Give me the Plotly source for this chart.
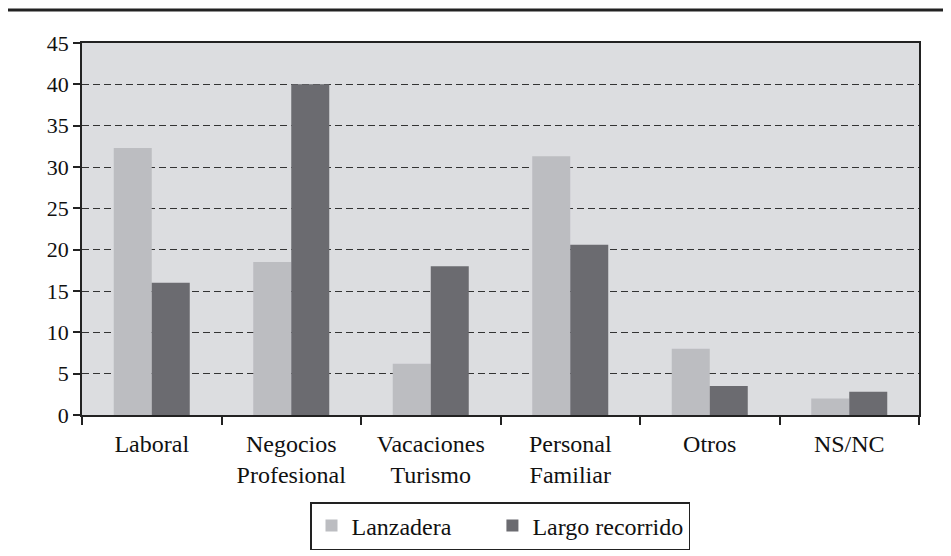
import plotly.graph_objects as go

categories = ["Laboral", "Negocios<br>Profesional", "Vacaciones<br>Turismo",
              "Personal<br>Familiar", "Otros", "NS/NC"]
lanzadera = [32.3, 18.5, 6.2, 31.3, 8.0, 2.0]
largo_recorrido = [16.0, 40.0, 18.0, 20.6, 3.5, 2.8]
y_ticks = [0, 5, 10, 15, 20, 25, 30, 35, 40, 45]
series_names = ["Lanzadera", "Largo recorrido"]

W, H = 951, 556
OFF = 8  # page body margin
L, R, T, B = 82 - OFF, 951 - 919 + OFF, 43 - OFF, 556 - 415 + OFF
pw, ph = W - L - R, H - T - B

FAM = "Liberation Serif, Times New Roman, serif"
font = dict(family=FAM, size=24, color="#111")
yfont = dict(family=FAM, size=22, color="#111")

fig = go.Figure()
fig.add_trace(go.Bar(x=categories, y=lanzadera,
                     name=series_names[0] + "\u00a0" * 6,
                     marker=dict(color="#bcbdc1", line=dict(width=0))))
fig.add_trace(go.Bar(x=categories, y=largo_recorrido, name=series_names[1],
                     marker=dict(color="#6b6b70", line=dict(width=0))))

# top decorative rule
rule_y = (ph + T - (10 - OFF)) / ph
fig.add_shape(type="line", xref="paper", yref="paper",
              x0=(7 - 82) / pw, x1=(W - 82) / pw,
              y0=rule_y, y1=rule_y,
              line=dict(color="#222", width=3))

fig.update_layout(
    width=W, height=H,
    margin=dict(l=L, r=R, t=T, b=B, autoexpand=False),
    paper_bgcolor="white", plot_bgcolor="#dcdde0",
    font=font,
    barmode="group", bargap=0.455, bargroupgap=0,
    showlegend=True,
    legend=dict(orientation="h", xanchor="center", x=(500 - 82) / pw,
                yanchor="top", y=-(502 - 415) / ph,
                bordercolor="#222", borderwidth=1.5,
                bgcolor="white", font=font, itemwidth=30, traceorder="normal"),
    xaxis=dict(showline=True, linecolor="#222", linewidth=1.5, mirror=True,
               ticks="outside", tickson="boundaries", ticklen=8,
               tickcolor="#222", tickwidth=1.5, showgrid=False,
               ticklabelstandoff=6, tickfont=font),
    yaxis=dict(range=[0, 45], tickvals=y_ticks, showline=True, linecolor="#222",
               linewidth=1.5, mirror=True, ticks="outside", ticklen=7,
               tickcolor="#222", tickwidth=1.5, showgrid=True,
               gridcolor="#333", gridwidth=1, griddash="7px,4px",
               zeroline=False, tickfont=yfont),
)

fig.write_html("out.html")
